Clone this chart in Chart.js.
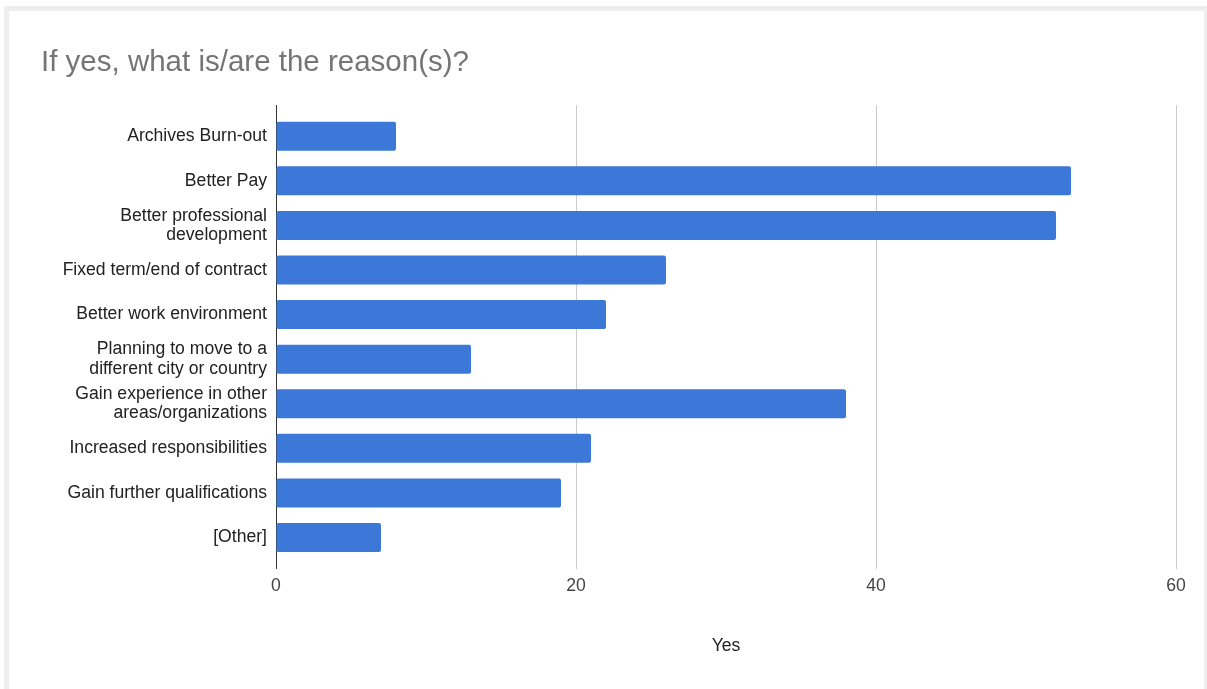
<!DOCTYPE html>
<html>
<head>
<meta charset="utf-8">
<title>If yes, what is/are the reason(s)?</title>
<script src="https://cdn.jsdelivr.net/npm/chart.js@4"></script>
<style>
  html, body { margin: 0; padding: 0; background: #ffffff; }
  body { width: 1207px; height: 689px; position: relative; overflow: hidden; }
  #card {
    position: absolute; left: 4px; top: 6px;
    width: 1195px; height: 700px;
    border: 5px solid #eeeeee; background: #ffffff;
  }
  #reasonsChart { position: absolute; left: 0; top: 0; }
</style>
</head>
<body>
<div id="card"></div>
<canvas id="reasonsChart" width="1207" height="689"></canvas>
<script>
// Chart data
const categories = [
  'Archives Burn-out',
  'Better Pay',
  ['Better professional', 'development'],
  'Fixed term/end of contract',
  'Better work environment',
  ['Planning to move to a', 'different city or country'],
  ['Gain experience in other', 'areas/organizations'],
  'Increased responsibilities',
  'Gain further qualifications',
  '[Other]'
];
const yesCounts = [8, 53, 52, 26, 22, 13, 38, 21, 19, 7];
const xTickValues = [0, 20, 40, 60];
const seriesName = 'Yes';
const chartTitle = 'If yes, what is/are the reason(s)?';

const ReasonsChart = (function() {
  'use strict';

  const FONT = '"Liberation Sans", Arial, sans-serif';
  const colors = {
    bar: '#3c78d8',
    title: '#757575',
    label: '#222222',
    tick: '#444444',
    grid: '#cccccc',
    axis: '#333333'
  };

  /**
   * Builds the horizontal bar chart
   */
  function initChart() {
    const ctx = document.getElementById('reasonsChart').getContext('2d');

    return new Chart(ctx, {
      type: 'bar',
      data: {
        datasets: [{
          label: seriesName,
          data: yesCounts.map((v, i) => ({ x: v, y: i })),
          backgroundColor: colors.bar,
          borderWidth: 0,
          borderRadius: 2,
          borderSkipped: false,
          categoryPercentage: 1,
          barPercentage: 0.65
        }]
      },
      options: {
        indexAxis: 'y',
        responsive: false,
        animation: false,
        devicePixelRatio: 1,
        layout: {
          padding: { left: 41, right: 31, top: 0, bottom: 32 }
        },
        plugins: {
          legend: { display: false },
          tooltip: { enabled: false },
          title: {
            display: true,
            text: chartTitle,
            align: 'start',
            color: colors.title,
            font: { family: FONT, size: 29.5, weight: 'normal', lineHeight: 1.2 },
            padding: { top: 45, bottom: 24.6 }
          }
        },
        scales: {
          x: {
            type: 'linear',
            min: 0,
            max: 60,
            afterBuildTicks: (scale) => {
              scale.ticks = xTickValues.map(v => ({ value: v }));
            },
            grid: {
              drawTicks: false,
              color: (c) => (c.tick && c.tick.value === 0) ? colors.axis : colors.grid
            },
            border: { display: false },
            ticks: {
              padding: 7,
              maxRotation: 0,
              color: colors.tick,
              font: { family: FONT, size: 17.6 }
            },
            title: {
              display: true,
              text: seriesName,
              color: colors.label,
              font: { family: FONT, size: 17.6 },
              padding: { top: 32, bottom: 0 }
            }
          },
          y: {
            type: 'linear',
            reverse: true,
            offset: false,
            min: -0.7,
            max: 9.7,
            afterBuildTicks: (scale) => {
              scale.ticks = categories.map((_, i) => ({ value: i }));
            },
            afterFit: (scale) => {
              scale.width = 235;
            },
            grid: { display: false },
            border: { display: false },
            ticks: {
              autoSkip: false,
              padding: 1,
              color: colors.label,
              font: { family: FONT, size: 17.6, lineHeight: 1.1 },
              callback: (value) => categories[value]
            }
          }
        }
      }
    });
  }

  return { initChart };
})();

window.reasonsChart = ReasonsChart.initChart();
</script>
</body>
</html>
